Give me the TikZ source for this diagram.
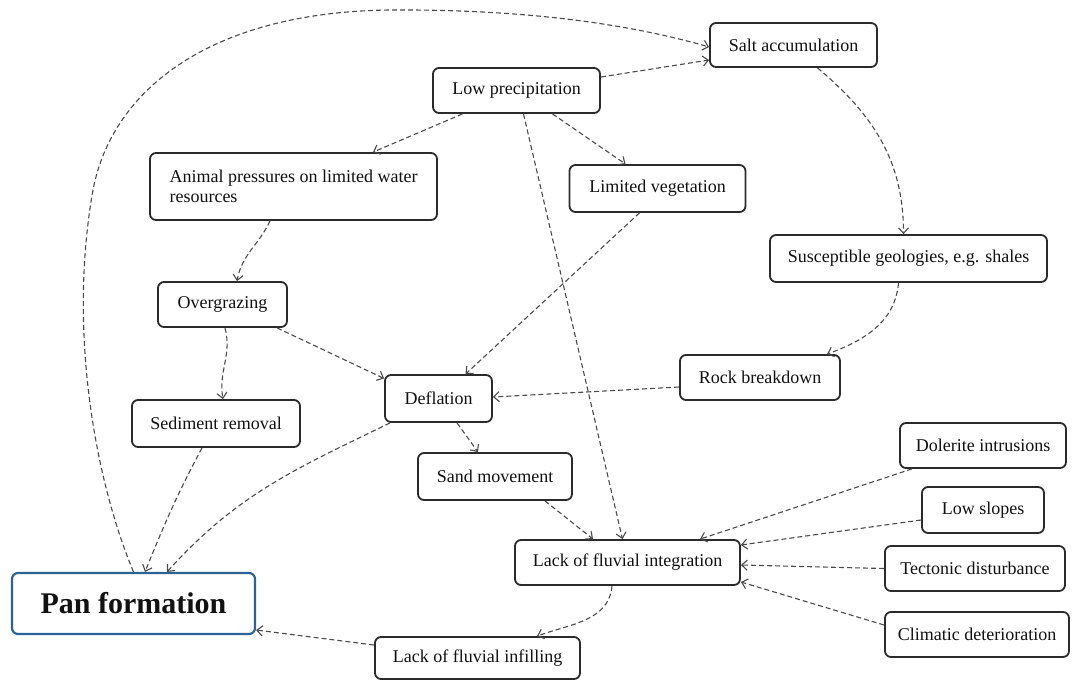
\documentclass[tikz,border=0pt]{standalone}
\usepackage{fontspec}
\setmainfont{Liberation Serif}
\usetikzlibrary{arrows.meta}
\definecolor{boxc}{HTML}{2B2B2B}
\definecolor{linec}{HTML}{4A4A4A}
\definecolor{panc}{HTML}{2A6496}
\definecolor{txt}{HTML}{111111}
\tikzset{
  box/.style={draw=boxc, line width=1.8pt, rounded corners=6pt, fill=white, inner sep=0pt,
    font=\fontsize{18}{20}\selectfont, text=txt, align=center},
  panbox/.style={box, draw=panc, line width=2.2pt, font=\bfseries\fontsize{30}{34}\selectfont},
  conn/.style={draw=linec, line width=1.1pt, dash pattern=on 5pt off 3pt,
    -{Straight Barb[length=5.5pt,width=10pt,line width=1.1pt]}}
}
\begin{document}
\begin{tikzpicture}[x=1pt,y=-1pt]
\useasboundingbox (0,0) rectangle (1075,680);
% nodes
\node[box, minimum width=167pt, minimum height=44pt] (salt) at (793.5,45) {Salt accumulation};
\node[box, minimum width=167pt, minimum height=45pt] (lowp) at (516.5,90.5) {Low precipitation};
\node[box, minimum width=287pt, minimum height=67pt, align=left] (animal) at (293.5,186.5) {Animal pressures on limited water\\resources};
\node[box, minimum width=176pt, minimum height=47pt] (limveg) at (657.5,188.5) {Limited vegetation};
\node[box, minimum width=277pt, minimum height=47pt] (susc) at (908.5,258.5) {Susceptible geologies, e.g. shales};
\node[box, minimum width=129pt, minimum height=45pt] (overg) at (222.5,304.5) {Overgrazing};
\node[box, minimum width=160pt, minimum height=45pt] (rock) at (760,377.5) {Rock breakdown};
\node[box, minimum width=107pt, minimum height=47pt] (defl) at (438.5,398.5) {Deflation};
\node[box, minimum width=168pt, minimum height=47pt] (sedim) at (216,423.5) {Sediment removal};
\node[box, minimum width=154pt, minimum height=47pt] (sand) at (495,476.5) {Sand movement};
\node[box, minimum width=166pt, minimum height=45pt] (dol) at (983,445.5) {Dolerite intrusions};
\node[box, minimum width=122pt, minimum height=46pt] (lows) at (983,510) {Low slopes};
\node[box, minimum width=225pt, minimum height=45pt] (lack) at (627.5,562.5) {Lack of fluvial integration};
\node[box, minimum width=180pt, minimum height=45pt] (tect) at (975,568.5) {Tectonic disturbance};
\node[box, minimum width=184pt, minimum height=45pt] (clim) at (977,634.5) {Climatic deterioration};
\node[panbox, minimum width=243pt, minimum height=61pt] (pan) at (133.5,603.5) {Pan formation};
\node[box, minimum width=205pt, minimum height=42pt] (infill) at (477.5,658) {Lack of fluvial infilling};
% connectors
\draw[conn] (pan.north) .. controls (95,480) and (68,330) .. (93,190)
  .. controls (112,90) and (210,12) .. (390,10)
  .. controls (550,9) and (650,30) .. ([yshift=-2pt]salt.west);
\draw[conn] ([yshift=13.5pt]lowp.east) -- ([yshift=-15pt]salt.west);
\draw[conn] ([xshift=-54pt]lowp.south) -- ([xshift=79.5pt]animal.north);
\draw[conn] ([xshift=36pt]lowp.south) -- ([xshift=-32pt]limveg.north);
\draw[conn] ([xshift=7pt]lowp.south) -- ([xshift=-5pt]lack.north);
\draw[conn] ([xshift=24pt]salt.south) to[out=-40,in=90] ([xshift=-5pt]susc.north);
\draw[conn] ([xshift=-10pt]susc.south) to[out=-95,in=20] ([xshift=67pt]rock.north);
\draw[conn] ([yshift=-9.5pt]rock.west) -- ([yshift=1.5pt]defl.east);
\draw[conn] ([xshift=-18pt]limveg.south) -- ([xshift=27pt]defl.north);
\draw[conn] ([xshift=-23.5pt]animal.south) to[out=-115,in=80] ([xshift=14.5pt]overg.north);
\draw[conn] ([xshift=2.5pt]overg.south) to[out=-75,in=100] ([xshift=7pt]sedim.north);
\draw[conn] ([xshift=54.5pt]overg.south) -- ([yshift=20pt]defl.west);
\draw[conn] ([xshift=-14pt]sedim.south) to[out=-118,in=68] ([xshift=11.5pt]pan.north);
\draw[conn] ([xshift=-48.5pt]defl.south) to[out=-154,in=48] ([xshift=33.5pt]pan.north);
\draw[conn] ([xshift=18.5pt]defl.south) -- ([xshift=-17pt]sand.north);
\draw[conn] ([xshift=50pt]sand.south) -- ([xshift=-34.5pt]lack.north);
\draw[conn] ([xshift=-71pt]dol.south) -- ([xshift=72.5pt]lack.north);
\draw[conn] ([yshift=-10pt]lows.west) -- ([yshift=17.5pt]lack.east);
\draw[conn] (tect.west) -- ([yshift=-2.5pt]lack.east);
\draw[conn] ([yshift=9.5pt]clim.west) -- ([yshift=-19.5pt]lack.east);
\draw[conn] ([xshift=-15.5pt]lack.south) to[out=-95,in=20] ([xshift=59.5pt]infill.north);
\draw[conn] ([yshift=13pt]infill.west) -- ([yshift=-26.5pt]pan.east);
\end{tikzpicture}
\end{document}
